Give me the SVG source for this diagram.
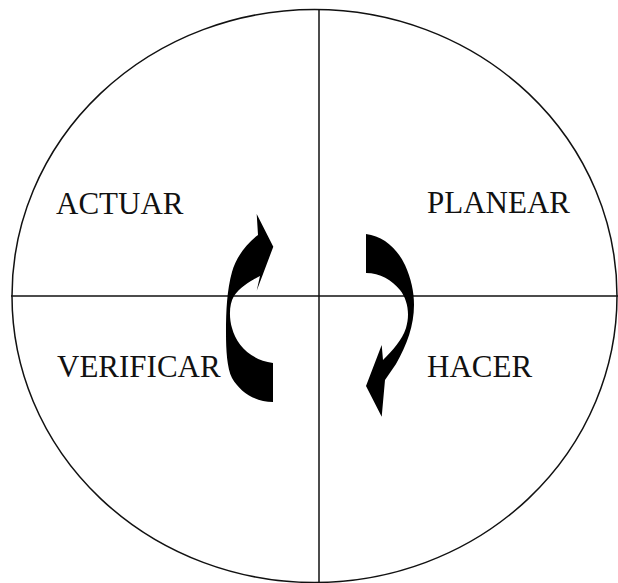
<svg xmlns="http://www.w3.org/2000/svg" width="618" height="583" viewBox="0 0 618 583">
<style>
.ln{fill:none;stroke:#111;stroke-width:1.5}
.lbl{font-family:"Liberation Serif","Times New Roman",serif;font-size:31px;fill:#111}
.arr{fill:#000;stroke:none}
</style>
<rect width="618" height="583" fill="#fff"/>
<g id="circle"><ellipse class="ln" cx="314.5" cy="296" rx="302.5" ry="286.5"/></g>
<g id="axes">
<line class="ln" x1="11" y1="296" x2="618" y2="296"/>
<line class="ln" x1="319" y1="9" x2="319" y2="583"/>
</g>
<g id="actuar"><text class="lbl" x="56" y="214">ACTUAR</text></g>
<g id="planear"><text class="lbl" x="427" y="213">PLANEAR</text></g>
<g id="verificar"><text class="lbl" x="57" y="377">VERIFICAR</text></g>
<g id="hacer"><text class="lbl" x="427" y="377">HACER</text></g>
<g id="connectors">
<path class="arr" d="M256.7 214 L273.3 246.7 L256.7 290.7 L260 276 C252 280 240 287 234 296 C229 304 229 318 232 328 C236 344 250 360 273 363 L273 402 C255 402 240 392 232 378 C227 368 226 350 226 333 C226 310 227 290 232 272 C236 258 245 245 258 235 Z"/>
<path class="arr" d="M366 234 C383 236 397 248 405 265 C411 278 414 292 414 305 C414 325 407 345 396 364 L385 380 L381.7 416.7 L366 386 L381.7 345 L383 360 C393 350 402 340 406 328 C410 315 408 300 400 290 C392 280 380 273 366 273 Z"/>
</g>
</svg>
